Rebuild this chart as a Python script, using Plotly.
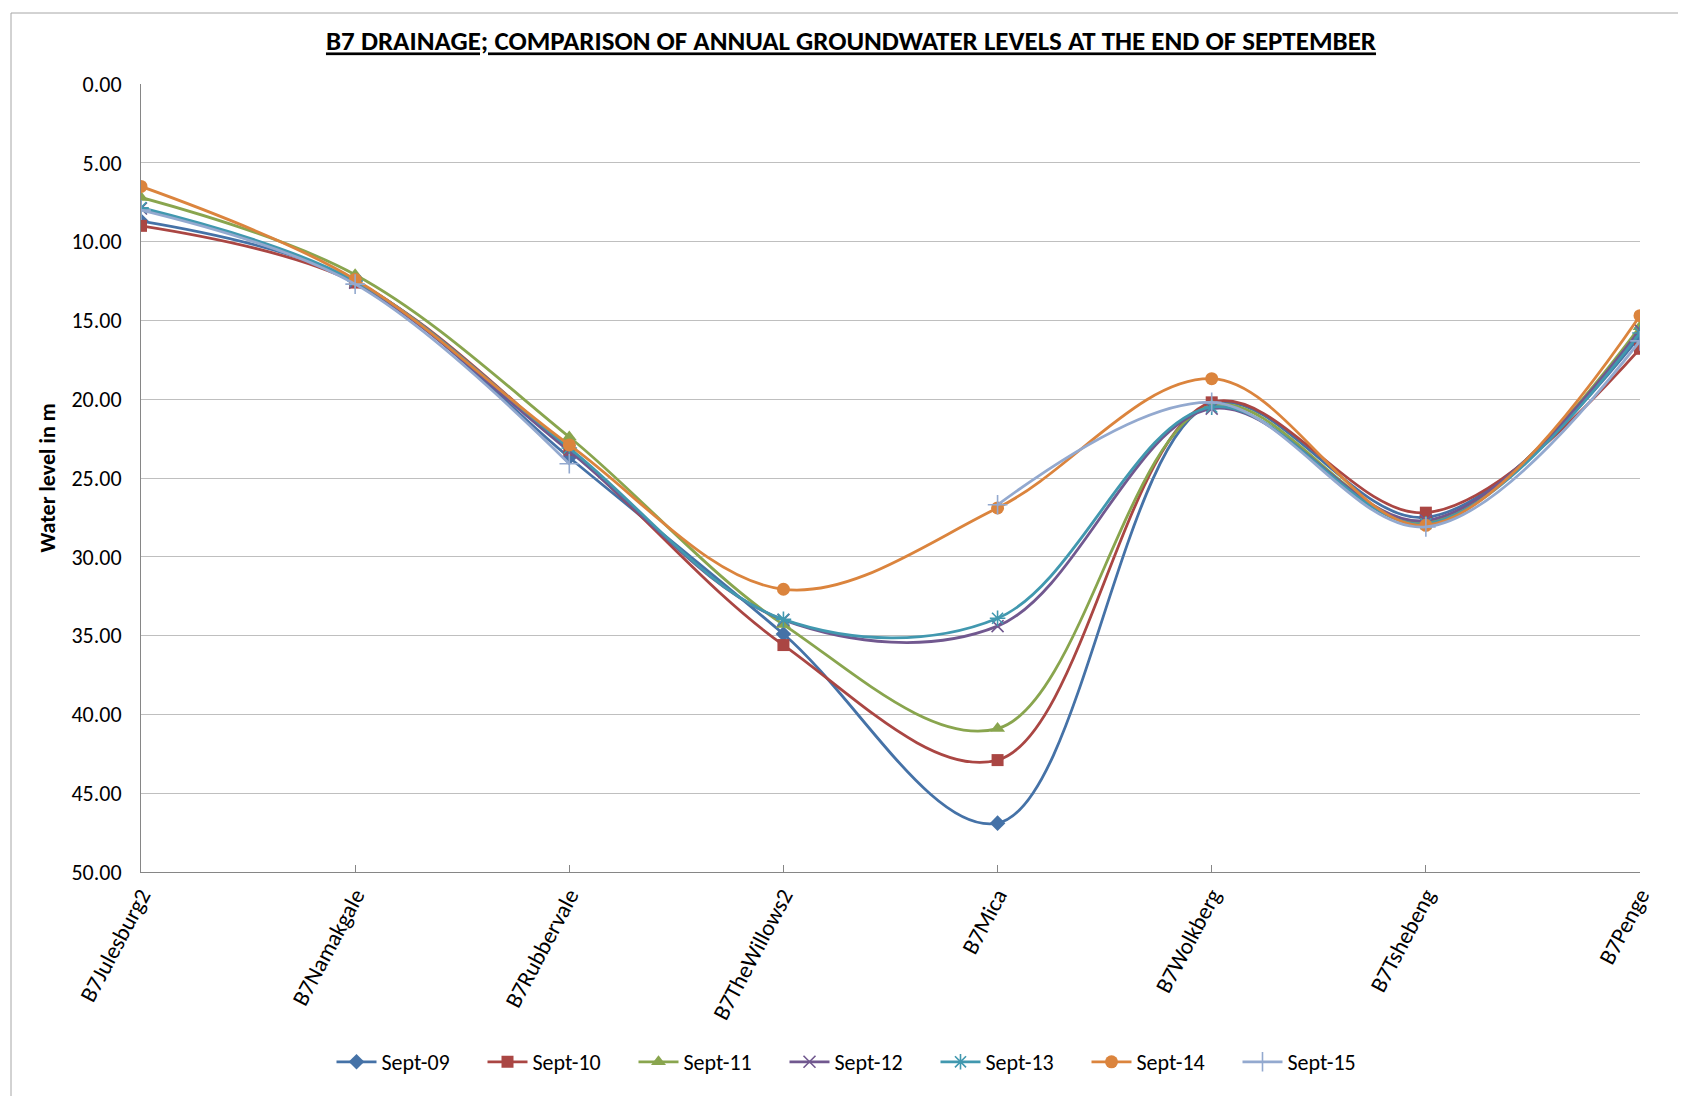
import plotly.graph_objects as go

categories = ["B7Julesburg2", "B7Namakgale", "B7Rubbervale", "B7TheWillows2",
              "B7Mica", "B7Wolkberg", "B7Tshebeng", "B7Penge"]

sept_09 = [8.7, 12.5, 23.7, 34.9, 46.9, 20.3, 27.5, 16.0]
sept_10 = [9.0, 12.6, 23.2, 35.6, 42.9, 20.2, 27.2, 16.8]
sept_11 = [7.2, 12.1, 22.4, 34.3, 40.9, 20.4, 27.8, 15.4]
sept_12 = [7.9, 12.6, 23.3, 34.0, 34.4, 20.6, 27.7, 15.6]
sept_13 = [7.85, 12.5, 23.1, 33.97, 33.9, 20.5, 27.9, 15.8]
sept_14 = [6.5, 12.4, 22.9, 32.06, 26.9, 18.7, 28.0, 14.7]
sept_15 = [8.0, 12.7, 24.1, None, 26.7, 20.2, 28.1, 16.3]

series_names = ["Sept-09", "Sept-10", "Sept-11", "Sept-12", "Sept-13", "Sept-14", "Sept-15"]
series_values = [sept_09, sept_10, sept_11, sept_12, sept_13, sept_14, sept_15]
colors = ["#4572A7", "#AA4643", "#89A54E", "#71588F", "#4198AF", "#DB843D", "#93A9CF"]
symbols = ["diamond", "square", "triangle-up", "x-thin-open", "asterisk-open", "circle", "cross-thin-open"]
sizes = [12, 12, 13, 12, 13, 13, 14]

y_ticks = [0, 5, 10, 15, 20, 25, 30, 35, 40, 45, 50]

FONT = "Carlito, Lato, 'Open Sans', sans-serif"

fig = go.Figure()
for name, vals, col, sym, sz in zip(series_names, series_values, colors, symbols, sizes):
    thin = sym.endswith("open")
    fig.add_trace(go.Scatter(
        x=list(range(len(categories))), y=vals, name=name,
        mode="lines+markers",
        line=dict(color=col, width=2.8, shape="spline", smoothing=1.0),
        marker=dict(symbol=sym, size=sz, color=col,
                    line=dict(color=col, width=1.6 if thin else 0)),
        connectgaps=False,
    ))

W, H = 1686, 1096
L, R, T, B = 133, 54, 76, 232
pw, ph = W - L - R, H - T - B

def px(x):
    return (x - L) / pw

def py(y):
    return (H - B - y) / ph

fig.add_shape(type="rect", xref="paper", yref="paper",
              x0=px(3), x1=px(1681), y0=py(1094), y1=py(5),
              line=dict(color="#a6a6a6", width=1), fillcolor="rgba(0,0,0,0)", layer="below")

fig.update_layout(
    width=W, height=H,
    margin=dict(l=L, r=R, t=T, b=B),
    paper_bgcolor="white", plot_bgcolor="white",
    font=dict(family=FONT, size=22, color="#262626"),
    title=dict(text="<b><u>B7 DRAINAGE; COMPARISON OF ANNUAL GROUNDWATER LEVELS AT THE END OF SEPTEMBER</u></b>",
               xref="container", x=843 / W, xanchor="center", y=1 - 33 / H, yanchor="middle",
               font=dict(family=FONT, size=27, color="#000000")),
    showlegend=True,
    legend=dict(orientation="h", x=px(852), xanchor="center", y=py(1054), yanchor="middle",
                font=dict(family=FONT, size=22, color="#000000"),
                itemwidth=40, entrywidth=96, entrywidthmode="pixels", tracegroupgap=0),
)

fig.update_xaxes(
    range=[0, len(categories) - 1],
    tickmode="array", tickvals=list(range(len(categories))), ticktext=categories,
    tickangle=-62, ticks="inside", ticklen=7, tickcolor="#868686",
    showline=True, linecolor="#868686", linewidth=1, mirror=False,
    showgrid=False, zeroline=False,
    tickfont=dict(family=FONT, size=23, color="#000000"),
)

fig.update_yaxes(
    range=[50, 0], tickmode="array", tickvals=y_ticks,
    tickformat=".2f", showgrid=True, gridcolor="#bfbfbf", gridwidth=1.3,
    showline=True, linecolor="#868686", linewidth=1,
    zeroline=False, ticks="", ticklabelstandoff=14,
    tickfont=dict(family=FONT, size=22, color="#000000"),
    title=dict(text="<b>Water level in m</b>", font=dict(family=FONT, size=22, color="#000000"), standoff=9),
)

fig.write_html("out.html")
